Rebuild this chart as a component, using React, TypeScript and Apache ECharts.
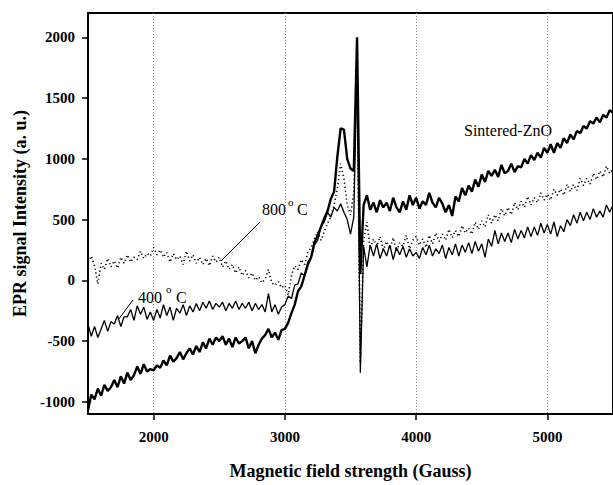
import React, { useEffect, useRef } from "react";
import * as echarts from "echarts";

// Field sampling: 1500 G to 5500 G, one reading every 25 G
const fieldStart = 1500;
const fieldStep = 25;

// Sintered-ZnO (thick solid)
const sintered = [
  -1070, -940, -980, -890,
  -950, -860, -910, -880,
  -820, -880, -790, -850,
  -760, -820, -780, -710,
  -770, -690, -750, -730,
  -740, -700, -720, -660,
  -700, -620, -670, -640,
  -590, -650, -600, -560,
  -610, -540, -590, -510,
  -560, -480, -530, -470,
  -500, -460, -530, -480,
  -550, -470, -520, -500,
  -470, -560, -500, -600,
  -530, -480, -450, -400,
  -470, -430, -490, -410,
  -400, -350, -270, -200,
  -90, -50, 40, 130,
  190, 310, 370, 440,
  510, 570, 670, 730,
  1020, 1250, 1240, 1000,
  920, 900,
  2000, 50,
  620, 700, 580, 640,
  560, 660, 600, 640,
  570, 680, 600, 560,
  650, 580, 700, 620,
  680, 590, 650, 620,
  720, 640, 600, 680,
  630, 560, 620, 530,
  690, 650, 760, 700,
  780, 730, 830, 770,
  870, 810, 900, 860,
  910, 850, 950, 880,
  900, 960, 890, 940,
  930, 1000, 960, 1030,
  990, 1050, 1010, 1090,
  1050, 1120, 1050, 1130,
  1090, 1170, 1130, 1200,
  1160, 1230, 1210, 1270,
  1250, 1310, 1290, 1340,
  1300, 1360, 1340, 1400,
  1380,
];

// 800 °C (dotted)
const c800 = [
  150, 200, 120, -30,
  140, 90, 180, 110,
  160, 100, 190, 140,
  210, 150, 190, 170,
  240, 180, 220, 200,
  270, 210, 250, 190,
  230, 150, 220, 170,
  200, 130, 240, 160,
  210, 140, 190, 130,
  180, 120, 200, 150,
  190, 110, 160, 90,
  130, 60, 110, 40,
  80, 20, 60, 0,
  30, -20, 10, 90,
  -20, -40, -10, -60,
  -40, -120, 40, 120,
  90, 170, 130, 230,
  270, 340, 400, 330,
  400, 470, 520, 620,
  760, 960, 840, 620,
  540, 720,
  1600, -680,
  330, 480, 260, 340,
  280, 360, 250, 320,
  260, 350, 240, 310,
  280, 370, 260, 330,
  360, 290, 340, 270,
  370, 300, 390, 320,
  380, 330, 420, 350,
  410, 360, 450, 390,
  430, 380, 480, 420,
  490, 440, 540, 470,
  540, 490, 590, 530,
  600, 540, 640, 580,
  650, 600, 690, 620,
  680, 640, 720, 660,
  710, 660, 750, 700,
  750, 700, 790, 730,
  790, 740, 840, 780,
  840, 790, 880, 830,
  900, 850, 940, 880,
  920,
];

// 400 °C (thin solid)
const c400 = [
  -360, -460, -380, -470,
  -400, -330, -420, -340,
  -360, -290, -380, -300,
  -300, -240, -330, -210,
  -280, -220, -320, -260,
  -330, -240, -310, -200,
  -290, -220, -330, -230,
  -270, -200, -290, -210,
  -260, -190, -250, -180,
  -230, -170, -240, -190,
  -220, -180, -250, -190,
  -230, -170, -240, -190,
  -230, -180, -250, -190,
  -240, -200, -260, -110,
  -260, -200, -280, -220,
  -200, -130, -150, -40,
  -30, 60, 40, 150,
  190, 290, 330, 440,
  480, 560, 520, 600,
  570, 630, 560, 500,
  380, 520,
  1850, -760,
  280, 110, 290, 200,
  300, 180, 260, 200,
  290, 170, 270, 210,
  280, 190, 260, 200,
  230, 180, 270, 210,
  290, 200, 260, 220,
  290, 180, 270, 210,
  300, 200, 290, 230,
  310, 220, 320, 240,
  300, 190, 340, 280,
  410, 300, 390, 320,
  390, 310, 420, 340,
  410, 350, 440, 360,
  440, 370, 470, 390,
  460, 380, 480, 360,
  450, 400, 500, 450,
  540, 470, 560, 490,
  560, 500, 590, 520,
  570, 520, 620, 560,
  620,
];

const xTicks = [2000, 3000, 4000, 5000];
const yTicks = [-1000, -500, 0, 500, 1000, 1500, 2000];

const toPairs = (vals: number[]) =>
  vals.map((v, i) => [fieldStart + fieldStep * i, v]);

const serif = "Liberation Serif";

export default function App() {
  const ref = useRef<HTMLDivElement>(null);
  useEffect(() => {
    if (!ref.current) return;
    const chart = echarts.init(ref.current, undefined, { renderer: "svg" });
    const txt = (text: string, x: number, y: number, size: number, align = "left") => ({
      type: "text",
      x,
      y,
      style: {
        text,
        fontFamily: serif,
        fontSize: size,
        fill: "#000",
        align,
        verticalAlign: "middle",
      },
    });
    chart.setOption({
      animation: false,
      backgroundColor: "#fff",
      textStyle: { fontFamily: serif },
      grid: {
        left: 88,
        top: 13,
        right: -1,
        bottom: 66,
        show: true,
        borderColor: "#000",
        borderWidth: 2,
      },
      xAxis: {
        type: "value",
        min: 1500,
        max: 5500,
        name: "Magnetic field strength (Gauss)",
        nameLocation: "middle",
        nameGap: 48,
        nameTextStyle: { fontFamily: serif, fontWeight: "bold", fontSize: 18, color: "#000" },
        axisLine: { show: true, onZero: false, lineStyle: { color: "#000", width: 2 } },
        axisTick: { show: true, length: 6, customValues: xTicks, lineStyle: { color: "#000", width: 1.5 } },
        axisLabel: {
          customValues: xTicks,
          formatter: (v: number) => String(v),
          margin: 15,
          fontFamily: serif,
          fontWeight: "bold",
          fontSize: 15,
          color: "#000",
        },
        splitLine: { show: true, lineStyle: { color: "#888", type: [1, 2], width: 1 } },
      },
      yAxis: {
        type: "value",
        min: -1100,
        max: 2200,
        name: "EPR signal Intensity (a. u.)",
        nameLocation: "middle",
        nameGap: 59,
        nameTextStyle: { fontFamily: serif, fontWeight: "bold", fontSize: 18, color: "#000" },
        axisLine: { show: true, lineStyle: { color: "#000", width: 2 } },
        axisTick: { show: true, length: 6, customValues: yTicks, lineStyle: { color: "#000", width: 1.5 } },
        axisLabel: {
          customValues: yTicks,
          formatter: (v: number) => String(v),
          margin: 13,
          fontFamily: serif,
          fontWeight: "bold",
          fontSize: 15,
          color: "#000",
        },
        splitLine: { show: false },
      },
      series: [
        {
          name: "800 °C",
          type: "line",
          data: toPairs(c800),
          showSymbol: false,
          lineStyle: { color: "#000", width: 1.6, type: [1.2, 2.8] },
        },
        {
          name: "400 °C",
          type: "line",
          data: toPairs(c400),
          showSymbol: false,
          lineStyle: { color: "#000", width: 1.3 },
        },
        {
          name: "Sintered-ZnO",
          type: "line",
          data: toPairs(sintered),
          showSymbol: false,
          lineStyle: { color: "#000", width: 2.4 },
        },
      ],
      graphic: [
        txt("Sintered-ZnO", 508, 130, 16, "center"),
        txt("800", 262, 209, 16),
        txt("o", 288, 202, 11),
        txt("C", 297, 209, 16),
        txt("400", 138, 297, 16),
        txt("o", 166, 289, 11),
        txt("C", 176, 297, 16),
        { type: "line", shape: { x1: 260, y1: 222, x2: 221, y2: 261 }, style: { stroke: "#000", lineWidth: 1 } },
        { type: "line", shape: { x1: 133, y1: 300, x2: 118, y2: 320 }, style: { stroke: "#000", lineWidth: 1 } },
      ],
    });
    return () => chart.dispose();
  }, []);
  return (
    <div
      ref={ref}
      style={{ position: "fixed", left: 0, top: 0, width: 613, height: 485 }}
    />
  );
}
